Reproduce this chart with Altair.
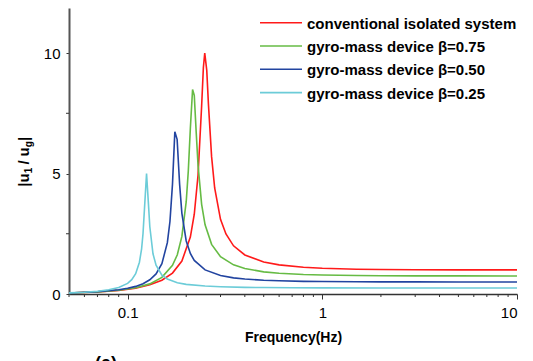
import altair as alt
import pandas as pd

series_names = [
    "conventional isolated system",
    "gyro-mass device β=0.75",
    "gyro-mass device β=0.50",
    "gyro-mass device β=0.25",
]
series_colors = ["#ff1a1a", "#66bb44", "#2244a0", "#6cccd8"]

freq_red = [0.05, 0.07, 0.09, 0.11, 0.13, 0.15, 0.17, 0.19, 0.21, 0.22,
            0.23, 0.24, 0.245, 0.249, 0.255, 0.26, 0.27, 0.28, 0.30, 0.32,
            0.35, 0.40, 0.50, 0.60, 0.80, 1.0, 1.5, 2, 3, 5, 10]
val_red = [0.04, 0.09, 0.15, 0.24, 0.38, 0.57, 0.87, 1.37, 2.36, 3.31,
           4.93, 7.8, 9.4, 10.0, 9.28, 7.9, 5.7, 4.4, 3.1, 2.49,
           2.0, 1.62, 1.33, 1.21, 1.11, 1.07, 1.03, 1.016, 1.007, 1.0, 1.0]

freq_green = [0.05, 0.07, 0.09, 0.11, 0.13, 0.15, 0.17, 0.18, 0.19, 0.20,
              0.205, 0.21, 0.2156, 0.22, 0.225, 0.23, 0.24, 0.25, 0.27, 0.30,
              0.35, 0.40, 0.5, 0.6, 0.8, 1.0, 1.5, 2, 3, 5, 10]
val_green = [0.042, 0.088, 0.157, 0.261, 0.42, 0.69, 1.19, 1.63, 2.39, 3.83,
             5.11, 6.87, 8.49, 8.24, 6.73, 5.35, 3.72, 2.87, 2.06, 1.55,
             1.21, 1.06, 0.92, 0.862, 0.809, 0.787, 0.766, 0.759, 0.754, 0.751, 0.75]

freq_blue = [0.05, 0.07, 0.09, 0.10, 0.11, 0.12, 0.13, 0.14, 0.15, 0.16,
             0.165, 0.17, 0.1748, 0.1796, 0.185, 0.19, 0.20, 0.21, 0.22, 0.25,
             0.30, 0.35, 0.4, 0.5, 0.6, 0.8, 1.0, 1.5, 2, 3, 5, 10]
val_blue = [0.043, 0.093, 0.175, 0.235, 0.316, 0.427, 0.589, 0.832, 1.257, 2.13,
            3.01, 4.55, 6.73, 6.42, 4.55, 3.35, 2.2, 1.68, 1.395, 1.0,
            0.766, 0.671, 0.621, 0.571, 0.548, 0.524, 0.516, 0.507, 0.504, 0.502, 0.5, 0.5]

freq_cyan = [0.05, 0.06, 0.07, 0.08, 0.09, 0.10, 0.105, 0.11, 0.115, 0.118,
             0.12, 0.122, 0.1251, 0.128, 0.13, 0.135, 0.14, 0.15, 0.16, 0.18,
             0.2, 0.25, 0.3, 0.4, 0.5, 0.7, 1.0, 2, 5, 10]
val_cyan = [0.048, 0.075, 0.114, 0.174, 0.269, 0.44, 0.593, 0.842, 1.32, 1.875,
            2.51, 3.5, 5.0, 3.71, 2.8, 1.67, 1.2, 0.78, 0.62, 0.47,
            0.40, 0.333, 0.303, 0.277, 0.267, 0.258, 0.254, 0.251, 0.25, 0.25]

x_major_ticks = [0.1, 1, 10]
x_minor_ticks = [0.05, 0.06, 0.07, 0.08, 0.09, 0.2, 0.3, 0.4, 0.5, 0.6, 0.7, 0.8, 0.9,
                 2, 3, 4, 5, 6, 7, 8, 9]
y_major_ticks = [0, 5, 10]
y_minor_ticks = [2.5, 7.5]

rows = []
for name, fs, vs in zip(series_names,
                        [freq_red, freq_green, freq_blue, freq_cyan],
                        [val_red, val_green, val_blue, val_cyan]):
    for f, v in zip(fs, vs):
        rows.append({"series": name, "freq": f, "value": v})
df = pd.DataFrame(rows)

FONT = "Liberation Sans"
W, H = 448, 286
xscale = alt.Scale(type="log", domain=[0.05, 10], nice=False)
yscale = alt.Scale(domain=[0, 11.87], nice=False, zero=False)
cscale = alt.Scale(domain=series_names, range=series_colors)

xaxis = alt.Axis(values=x_major_ticks, format="~g", title="Frequency(Hz)",
                 tickSize=5, labelPadding=6, titlePadding=10,
                 domainColor="#333", domainWidth=1.5, tickColor="#333",
                 labelFont=FONT, labelFontSize=15, labelColor="black",
                 titleFont=FONT, titleFontSize=14, titleFontWeight="bold",
                 titleColor="black", grid=False)
yaxis = alt.Axis(values=y_major_ticks, title=None, tickSize=3, labelPadding=6,
                 domainColor="#555", domainWidth=2, tickColor="#333",
                 labelFont=FONT, labelFontSize=15, labelColor="black", grid=False)

lines = alt.Chart(df).mark_line(strokeWidth=1.6, clip=True).encode(
    x=alt.X("freq:Q", scale=xscale, axis=xaxis),
    y=alt.Y("value:Q", scale=yscale, axis=yaxis),
    color=alt.Color("series:N", scale=cscale, legend=None),
)

xminor = alt.Chart(pd.DataFrame({"t": x_minor_ticks})).mark_rule(color="#333", strokeWidth=1).encode(
    x=alt.X("t:Q", scale=xscale, axis=xaxis),
    y=alt.value(H), y2=alt.value(H + 3),
)
yminor = alt.Chart(pd.DataFrame({"t": y_minor_ticks})).mark_rule(color="#333", strokeWidth=1).encode(
    y=alt.Y("t:Q", scale=yscale, axis=yaxis),
    x=alt.value(0), x2=alt.value(-3),
)

# manual legend (top right)
legend_layers = []
for i, name in enumerate(series_names):
    ly = 14.7 + 23.3 * i
    src = alt.Data(values=[{"series": name}])
    legend_layers.append(
        alt.Chart(src).mark_rule(strokeWidth=1.6).encode(
            x=alt.value(191), x2=alt.value(233), y=alt.value(ly),
            color=alt.Color("series:N", scale=cscale, legend=None))
    )
    legend_layers.append(
        alt.Chart(src).mark_text(font=FONT, fontWeight="bold", fontSize=15, align="left",
                                 baseline="middle", color="black").encode(
            x=alt.value(238), y=alt.value(ly + 1), text="series:N")
    )

# y-axis title |u1 / ug| built from pieces (rotated); (text, size, sideways shift, start y on page)
ytitle_pieces = [("|u", 15, 0, 186.7), ("1", 10, 3, 173.3), ("/", 15, 0, 164.5),
                 ("u", 15, 0, 156.5), ("g", 10, 3, 147.3), ("|", 15, 0, 141.0)]
title_layers = []
for txt, size, shift, ystart in ytitle_pieces:
    title_layers.append(
        alt.Chart(alt.Data(values=[{"k": 1}])).mark_text(
            font=FONT, fontWeight="bold", fontSize=size, angle=270, align="left",
            baseline="alphabetic", color="black"
        ).encode(x=alt.value(28.5 - 69 + shift), y=alt.value(ystart - 8), text=alt.value(txt))
    )

label_a = alt.Chart(alt.Data(values=[{"k": 1}])).mark_text(
    font=FONT, fontWeight="bold", fontSize=18, align="left", baseline="alphabetic", color="black"
).encode(x=alt.value(95 - 69), y=alt.value(369 - 8), text=alt.value("(a)"))

chart = alt.layer(lines, xminor, yminor, *legend_layers, *title_layers, label_a).properties(
    width=W, height=H,
    autosize=alt.AutoSizeParams(type="none"),
    padding={"left": 61, "top": 0, "right": 8, "bottom": 67},
).configure_view(stroke=None)

chart.save("out.html", embed_options={"renderer": "svg", "actions": False})
